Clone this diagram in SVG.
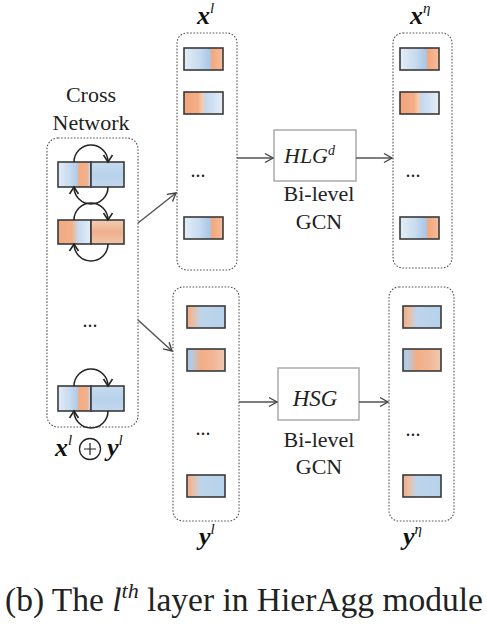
<svg xmlns="http://www.w3.org/2000/svg" width="487" height="624" viewBox="0 0 487 624">
<defs>
<linearGradient id="gA" x1="0" y1="0" x2="1" y2="0">
<stop offset="0" stop-color="#e4edf7"/><stop offset="0.4" stop-color="#c8dbef"/><stop offset="0.66" stop-color="#a9c7e7"/><stop offset="0.72" stop-color="#f3a77e"/><stop offset="1" stop-color="#f6bd9a"/>
</linearGradient>
<linearGradient id="gB" x1="0" y1="0" x2="1" y2="0">
<stop offset="0" stop-color="#f2a67c"/><stop offset="0.36" stop-color="#f3ad86"/><stop offset="0.46" stop-color="#f8caab"/><stop offset="0.56" stop-color="#c4d8ee"/><stop offset="0.8" stop-color="#d5e3f2"/><stop offset="1" stop-color="#e7eff8"/>
</linearGradient>
<linearGradient id="gC" x1="0" y1="0" x2="1" y2="0">
<stop offset="0" stop-color="#f2ad86"/><stop offset="0.15" stop-color="#ebbda2"/><stop offset="0.36" stop-color="#bed5ec"/><stop offset="1" stop-color="#b7d2ec"/>
</linearGradient>
<linearGradient id="gD" x1="0" y1="0" x2="1" y2="0">
<stop offset="0" stop-color="#a9c6e6"/><stop offset="0.12" stop-color="#b6cbe3"/><stop offset="0.36" stop-color="#f2ad86"/><stop offset="0.7" stop-color="#f2b797"/><stop offset="1" stop-color="#eec8b1"/>
</linearGradient>
<linearGradient id="gL1" x1="0" y1="0" x2="1" y2="0">
<stop offset="0" stop-color="#e2ecf7"/><stop offset="0.35" stop-color="#c9dbef"/><stop offset="0.58" stop-color="#b0cbe8"/><stop offset="0.63" stop-color="#f2ac84"/><stop offset="0.9" stop-color="#f4b18b"/><stop offset="0.95" stop-color="#c5d9ee"/><stop offset="1" stop-color="#bcd4ec"/>
</linearGradient>
<linearGradient id="gL2" x1="0" y1="0" x2="1" y2="0">
<stop offset="0" stop-color="#f0aa83"/><stop offset="0.42" stop-color="#f2b08a"/><stop offset="0.62" stop-color="#c8daee"/><stop offset="1" stop-color="#e5eef8"/>
</linearGradient>
<linearGradient id="gR1" x1="0" y1="0" x2="0" y2="1">
<stop offset="0" stop-color="#c6dbef"/><stop offset="0.5" stop-color="#b8d2eb"/><stop offset="1" stop-color="#c2d8ee"/>
</linearGradient>
<linearGradient id="gR2" x1="0" y1="0" x2="0" y2="1">
<stop offset="0" stop-color="#f4ccb3"/><stop offset="0.5" stop-color="#eeb08d"/><stop offset="1" stop-color="#f2c4a8"/>
</linearGradient>
<marker id="ah" markerWidth="12" markerHeight="12" refX="9" refY="6" orient="auto" markerUnits="userSpaceOnUse">
<path d="M1,1.5 L9,6 L1,10.5" fill="none" stroke="#444" stroke-width="1.4"/>
</marker>
<marker id="ahk" markerWidth="12" markerHeight="12" refX="8" refY="6" orient="auto" markerUnits="userSpaceOnUse">
<path d="M1,1.5 L8,6 L1,10.5" fill="none" stroke="#222" stroke-width="1.5"/>
</marker>
</defs>
<style>
.cont{fill:none;stroke:#555;stroke-width:1.1;stroke-dasharray:1.6 1.6}
.bar{stroke:#3a3a3a;stroke-width:1.6}
.box{fill:#fff;stroke:#aaa;stroke-width:1.5}
.t{font-family:"Liberation Serif","Times New Roman",serif;fill:#222}
.lbl{font-family:"Liberation Serif","Times New Roman",serif;font-weight:bold;font-style:italic;font-size:26px;fill:#111}
.sup{font-family:"Liberation Serif","Times New Roman",serif;font-style:italic;font-weight:normal;font-size:15px}
.conn{fill:none;stroke:#555;stroke-width:1.5}
.loop{fill:none;stroke:#222;stroke-width:1.5}
.dots{font-family:"Liberation Serif",serif;font-size:20px;fill:#222}
</style>

<g id="cross-network">
<text class="t" x="91" y="102" font-size="22" text-anchor="middle">Cross</text>
<text class="t" x="91" y="130" font-size="22" text-anchor="middle">Network</text>
<rect class="cont" x="47" y="138" width="91" height="289" rx="11"/>
<rect class="bar" x="58" y="162" width="33" height="25" fill="url(#gL1)"/>
<rect class="bar" x="91" y="162" width="33" height="25" fill="url(#gR1)"/>
<path class="loop" d="M74,162 A17,17 0 0 1 108,162" marker-end="url(#ahk)"/>
<path class="loop" d="M108,187 A17,17 0 0 1 74,187" marker-end="url(#ahk)"/>
<rect class="bar" x="58" y="220" width="33" height="24" fill="url(#gL2)"/>
<rect class="bar" x="91" y="220" width="33" height="24" fill="url(#gR2)"/>
<path class="loop" d="M74,220 A17,17 0 0 1 108,220" marker-end="url(#ahk)"/>
<path class="loop" d="M108,244 A17,17 0 0 1 74,244" marker-end="url(#ahk)"/>
<text class="dots" x="90" y="327" text-anchor="middle">...</text>
<rect class="bar" x="58" y="386" width="33" height="25" fill="url(#gL1)"/>
<rect class="bar" x="91" y="386" width="33" height="25" fill="url(#gR1)"/>
<path class="loop" d="M74,386 A17,17 0 0 1 108,386" marker-end="url(#ahk)"/>
<path class="loop" d="M108,411 A17,17 0 0 1 74,411" marker-end="url(#ahk)"/>
<text class="lbl" x="55" y="456">x<tspan class="sup" dy="-11">l</tspan></text>
<circle cx="90" cy="449" r="10.5" fill="none" stroke="#222" stroke-width="1.3"/>
<path d="M84,449 H96 M90,443 V455" stroke="#222" stroke-width="1.2"/>
<text class="lbl" x="107" y="456">y<tspan class="sup" dy="-11">l</tspan></text>
</g>

<g id="xl">
<text class="lbl" x="197" y="24">x<tspan class="sup" dy="-11">l</tspan></text>
<rect class="cont" x="177" y="33" width="60" height="237" rx="10"/>
<rect class="bar" x="184" y="48" width="39" height="22" fill="url(#gA)"/>
<rect class="bar" x="184" y="92" width="39" height="22" fill="url(#gB)"/>
<text class="dots" x="198" y="177" text-anchor="middle">...</text>
<rect class="bar" x="184" y="217" width="39" height="22" fill="url(#gA)"/>
</g>

<g id="xeta">
<text class="lbl" x="410" y="24">x<tspan class="sup" dy="-11">η</tspan></text>
<rect class="cont" x="393" y="33" width="59" height="235" rx="10"/>
<rect class="bar" x="400" y="48" width="39" height="22" fill="url(#gA)"/>
<rect class="bar" x="400" y="92" width="39" height="22" fill="url(#gB)"/>
<text class="dots" x="413" y="177" text-anchor="middle">...</text>
<rect class="bar" x="400" y="217" width="39" height="22" fill="url(#gA)"/>
</g>

<g id="yl">
<rect class="cont" x="173" y="287" width="66" height="234" rx="10"/>
<rect class="bar" x="187" y="306" width="38" height="22" fill="url(#gC)"/>
<rect class="bar" x="187" y="349" width="38" height="22" fill="url(#gD)"/>
<text class="dots" x="203" y="435" text-anchor="middle">...</text>
<rect class="bar" x="187" y="475" width="38" height="22" fill="url(#gC)"/>
<text class="lbl" x="199" y="545">y<tspan class="sup" dy="-11">l</tspan></text>
</g>

<g id="yeta">
<rect class="cont" x="389" y="287" width="65" height="234" rx="10"/>
<rect class="bar" x="403" y="306" width="38" height="22" fill="url(#gC)"/>
<rect class="bar" x="403" y="349" width="38" height="22" fill="url(#gD)"/>
<text class="dots" x="413" y="436" text-anchor="middle">...</text>
<rect class="bar" x="403" y="475" width="38" height="22" fill="url(#gC)"/>
<text class="lbl" x="403" y="545">y<tspan class="sup" dy="-11">η</tspan></text>
</g>

<g id="hlg">
<rect class="box" x="274" y="130" width="82" height="51"/>
<text class="t" x="284" y="163" font-size="22" font-style="italic">HLG<tspan font-size="14" dy="-8">d</tspan></text>
<text class="t" x="319" y="201" font-size="22" text-anchor="middle">Bi-level</text>
<text class="t" x="319" y="229" font-size="22" text-anchor="middle">GCN</text>
</g>

<g id="hsg">
<rect class="box" x="278" y="368" width="81" height="52"/>
<text class="t" x="315" y="406" font-size="23" font-style="italic" text-anchor="middle">HSG</text>
<text class="t" x="319" y="447" font-size="22" text-anchor="middle">Bi-level</text>
<text class="t" x="319" y="474" font-size="22" text-anchor="middle">GCN</text>
</g>

<g id="connectors">
<line class="conn" x1="138" y1="223" x2="176" y2="193" marker-end="url(#ah)"/>
<line class="conn" x1="138" y1="320" x2="172" y2="351" marker-end="url(#ah)"/>
<line class="conn" x1="237" y1="158" x2="273" y2="158" marker-end="url(#ah)"/>
<line class="conn" x1="356" y1="158" x2="392" y2="158" marker-end="url(#ah)"/>
<line class="conn" x1="239" y1="402" x2="277" y2="402" marker-end="url(#ah)"/>
<line class="conn" x1="359" y1="402" x2="388" y2="402" marker-end="url(#ah)"/>
</g>

<text class="t" x="5" y="611" font-size="33.5">(b) The <tspan font-style="italic">l</tspan><tspan font-style="italic" font-size="22" dy="-13">th</tspan><tspan dy="13"> layer in HierAgg module</tspan></text>
</svg>
